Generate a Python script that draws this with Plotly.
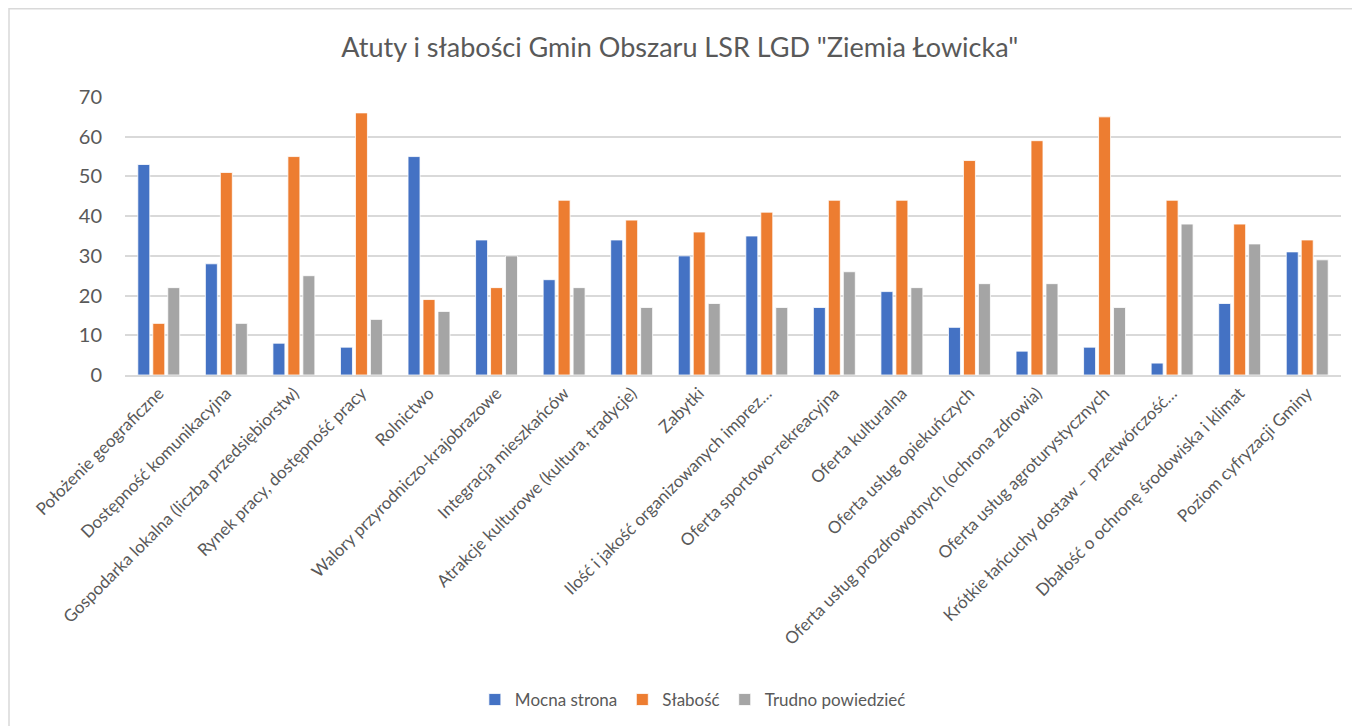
import plotly.graph_objects as go

categories = [
    "Położenie geograficzne",
    "Dostępność komunikacyjna",
    "Gospodarka lokalna (liczba przedsiębiorstw)",
    "Rynek pracy, dostępność pracy",
    "Rolnictwo",
    "Walory przyrodniczo-krajobrazowe",
    "Integracja mieszkańców",
    "Atrakcje kulturowe (kultura, tradycje)",
    "Zabytki",
    "Ilość i jakość organizowanych imprez…",
    "Oferta sportowo-rekreacyjna",
    "Oferta kulturalna",
    "Oferta usług opiekuńczych",
    "Oferta usług prozdrowotnych (ochrona zdrowia)",
    "Oferta usług agroturystycznych",
    "Krótkie łańcuchy dostaw – przetwórczość…",
    "Dbałość o ochronę środowiska i klimat",
    "Poziom cyfryzacji Gminy",
]
mocna = [53, 28, 8, 7, 55, 34, 24, 34, 30, 35, 17, 21, 12, 6, 7, 3, 18, 31]
slabosc = [13, 51, 55, 66, 19, 22, 44, 39, 36, 41, 44, 44, 54, 59, 65, 44, 38, 34]
trudno = [22, 13, 25, 14, 16, 30, 22, 17, 18, 17, 26, 22, 23, 23, 17, 38, 33, 29]

series = [
    ("Mocna strona", mocna, "#4472C4"),
    ("Słabość", slabosc, "#ED7D31"),
    ("Trudno powiedzieć", trudno, "#A5A5A5"),
]

font = "Lato, 'Open Sans', sans-serif"
fig = go.Figure()
for name, vals, color in series:
    fig.add_trace(go.Bar(
        x=categories, y=vals, name=name,
        marker=dict(color=color, line=dict(color="white", width=0.8)),
    ))

# page body has an 8px margin, so margins are shifted to compensate
fig.update_layout(
    width=1360, height=726,
    paper_bgcolor="white", plot_bgcolor="white",
    margin=dict(l=117, r=27, t=89, b=359),
    barmode="group", bargap=0.335, bargroupgap=0.2,
    font=dict(family=font, color="#595959"),
    title=dict(text='Atuty i słabości Gmin Obszaru LSR LGD "Ziemia Łowicka"',
               x=0.494, xanchor="center", y=0.945, yanchor="middle",
               font=dict(size=27, color="#595959")),
    legend=dict(orientation="h", x=0.467, xanchor="center", y=-1.169, yanchor="middle",
                font=dict(size=17, color="#595959"), traceorder="normal"),
    shapes=[dict(type="rect", xref="paper", yref="paper",
                 x0=-0.0954, x1=1.05, y0=-1.35, y1=1.317,
                 line=dict(color="#d9d9d9", width=1.5), layer="below")],
)
fig.update_xaxes(tickangle=-45, tickfont=dict(size=17, color="#595959"),
                 showline=True, linecolor="#d9d9d9", linewidth=1.5, automargin=False)
fig.update_yaxes(range=[0, 70], dtick=10, tickfont=dict(size=20, color="#595959"),
                 showgrid=True, gridcolor="#d9d9d9", gridwidth=1.5,
                 zeroline=False, ticklabelstandoff=22, automargin=False)

fig.write_html("out.html")
